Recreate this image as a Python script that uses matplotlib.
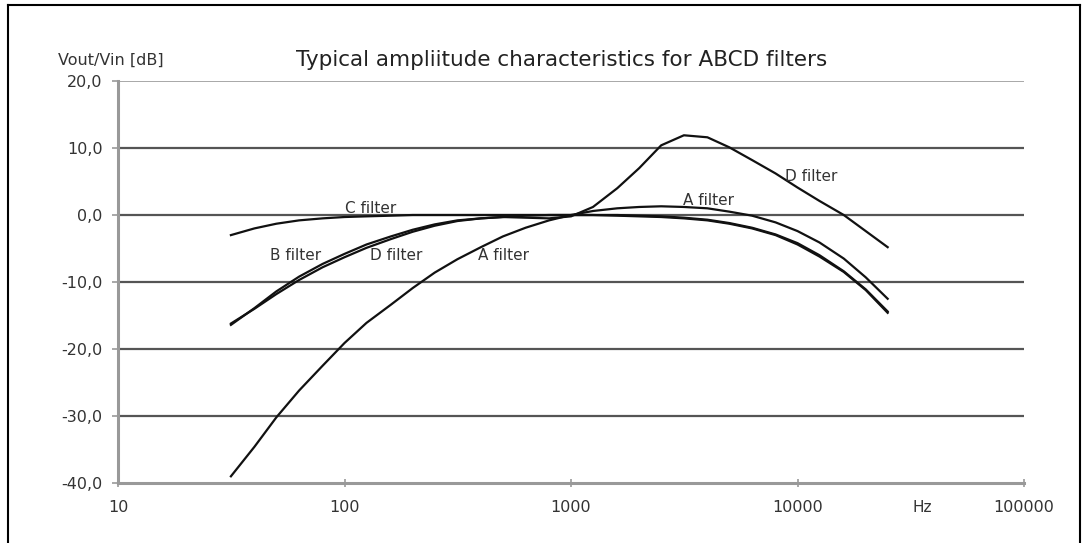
import matplotlib
matplotlib.use('Agg')
import matplotlib.pyplot as plt
from matplotlib.lines import Line2D

# third-octave frequencies [Hz]
freqs = [31.5, 40, 50, 63, 80, 100, 125, 160, 200, 250, 315, 400, 500, 630, 800,
         1000, 1250, 1600, 2000, 2500, 3150, 4000, 5000, 6300, 8000, 10000,
         12500, 16000, 20000, 25000]

# Vout/Vin [dB]
a_filter = [-39.0, -34.6, -30.2, -26.2, -22.5, -19.1, -16.1, -13.4, -10.9, -8.6,
            -6.6, -4.8, -3.2, -1.9, -0.8, 0.0, 0.6, 1.0, 1.2, 1.3, 1.2, 1.0, 0.5,
            -0.1, -1.1, -2.4, -4.1, -6.5, -9.3, -12.5]
b_filter = [-16.4, -13.9, -11.4, -9.2, -7.3, -5.8, -4.4, -3.2, -2.2, -1.4, -0.8,
            -0.5, -0.3, -0.1, 0.0, 0.0, 0.0, 0.0, -0.1, -0.2, -0.4, -0.7, -1.2,
            -1.9, -2.9, -4.2, -6.0, -8.4, -11.1, -14.4]
c_filter = [-3.0, -2.0, -1.3, -0.8, -0.5, -0.3, -0.2, -0.1, 0.0, 0.0, 0.0, 0.0,
            0.0, 0.0, 0.0, 0.0, 0.0, -0.1, -0.2, -0.3, -0.5, -0.8, -1.3, -2.0,
            -3.0, -4.4, -6.2, -8.5, -11.2, -14.6]
d_filter = [-16.2, -14.0, -11.8, -9.7, -7.8, -6.3, -4.9, -3.6, -2.5, -1.6, -0.9,
            -0.5, -0.3, -0.4, -0.5, -0.2, 1.2, 4.0, 7.0, 10.4, 11.9, 11.6, 10.1,
            8.2, 6.2, 4.1, 2.1, 0.0, -2.4, -4.8]

y_ticks = [-40, -30, -20, -10, 0, 10, 20]
y_labels = ['-40,0', '-30,0', '-20,0', '-10,0', '0,0', '10,0', '20,0']
x_ticks = [10, 100, 1000, 10000, 100000]
x_labels = ['10', '100', '1000', '10000', '100000']

# curve labels: (text, freq, dB)
labels = [('C filter', 100, 1.0), ('B filter', 47, -6.1), ('D filter', 129, -6.1),
          ('A filter', 388, -6.1), ('A filter', 3120, 2.1), ('D filter', 8800, 5.8)]

fig = plt.figure(figsize=(10.88, 5.43), dpi=100)
ax = fig.add_axes([0.1085, 0.1105, 0.8327, 0.7403])

for y in [-30, -20, -10, 0, 10]:
    ax.axhline(y, color='#555555', lw=1.6, zorder=1)
ax.axhline(20, color='#999999', lw=1.2, zorder=1)

for vals in [a_filter, b_filter, c_filter, d_filter]:
    ax.plot(freqs, vals, color='#111111', lw=1.6, zorder=3)

for txt, f, db in labels:
    ax.text(f, db, txt, fontsize=11, color='#333333', va='center', ha='left', zorder=4)

ax.set_xscale('log')
ax.set_xlim(10, 100000)
ax.set_ylim(-40, 20)
ax.set_xticks(x_ticks)
ax.set_xticklabels(x_labels)
ax.minorticks_off()
ax.set_yticks(y_ticks)
ax.set_yticklabels(y_labels)

for s in ['top', 'right']:
    ax.spines[s].set_visible(False)
ax.spines['left'].set_color('#999999')
ax.spines['left'].set_linewidth(2.2)
ax.spines['bottom'].set_color('#999999')
ax.spines['bottom'].set_linewidth(2.2)
ax.tick_params(axis='y', colors='#999999', labelcolor='#333333', labelsize=11.5,
               length=4, width=1.2, pad=7)
ax.tick_params(axis='x', colors='#999999', labelcolor='#333333', labelsize=11.5,
               direction='inout', length=6, width=1.2, pad=9)

fig.text(0.516, 0.8895, 'Typical ampliitude characteristics for ABCD filters',
         fontsize=15.5, color='#222222', ha='center', va='center')
fig.text(0.0533, 0.8895, 'Vout/Vin [dB]', fontsize=11.5, color='#333333',
         ha='left', va='center')
fig.text(0.848, 0.066, 'Hz', fontsize=11, color='#333333', ha='center', va='center')

# outer frame
fl, fr, ft = 8 / 1088, 1080 / 1088, 1 - 5 / 543
for xs, ys in [([fl, fl], [0, ft]), ([fl, fr], [ft, ft]), ([fr, fr], [0, ft])]:
    fig.add_artist(Line2D(xs, ys, color='black', lw=1.5, transform=fig.transFigure))

fig.savefig('out.png', dpi=100)
